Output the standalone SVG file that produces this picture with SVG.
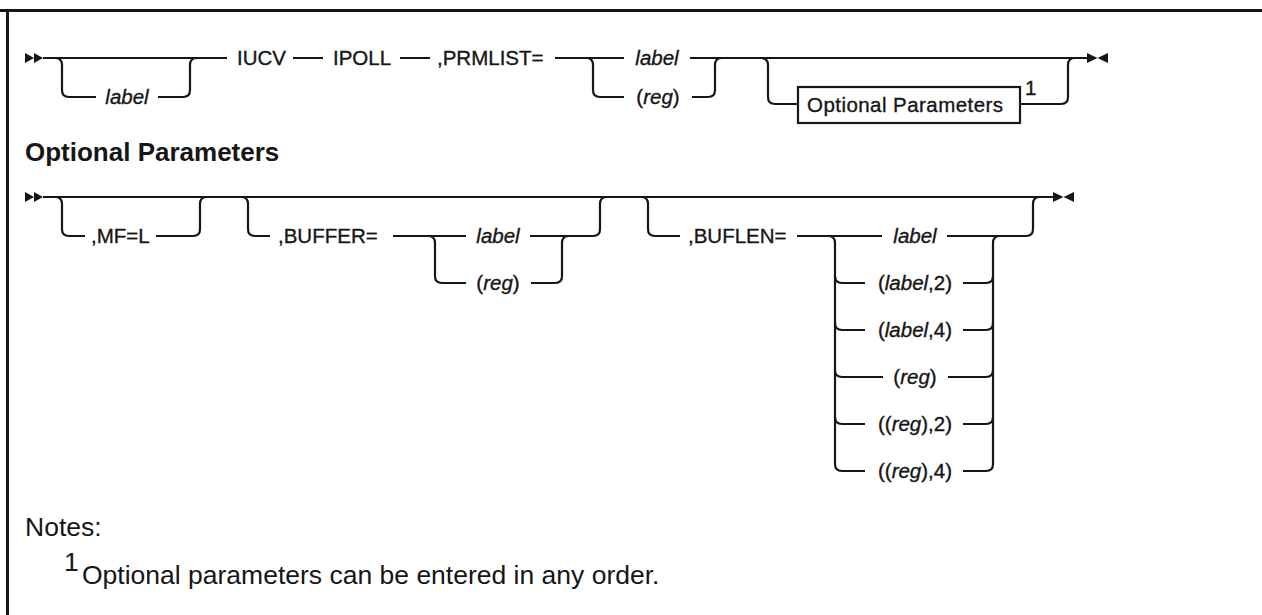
<svg xmlns="http://www.w3.org/2000/svg" width="1262" height="615" viewBox="0 0 1262 615">
<style>
.ln{fill:none;stroke:#161616;stroke-width:2.2}
.t{font-family:"Liberation Sans",Arial,sans-serif;font-size:20.5px;fill:#161616;stroke:#161616;stroke-width:0.35}
.c{text-anchor:middle}
.i{font-style:italic}
.h{font-family:"Liberation Sans",Arial,sans-serif;font-size:26px;font-weight:bold;fill:#161616}
.n{font-family:"Liberation Sans",Arial,sans-serif;font-size:26.5px;fill:#161616}
.ar{fill:#161616}
</style>
<rect width="1262" height="615" fill="#fff"/>
<g id="frame"><path d="M0 10.5H1262M7.5 10V615" fill="none" stroke="#161616" stroke-width="3"/></g>
<g id="connectors">
<path class="ln" d="M43 58H227"/>
<path class="ln" d="M55 58q7 0 7 7V90q0 7 7 7H96"/>
<path class="ln" d="M158 97H183q7 0 7-7V65q0-7 7-7"/>
<path class="ln" d="M293 58H323M400 58H430"/>
<path class="ln" d="M555 58H624M690 58H1087"/>
<path class="ln" d="M586 58q7 0 7 7V90q0 7 7 7H624"/>
<path class="ln" d="M692 97H708q7 0 7-7V65q0-7 7-7"/>
<path class="ln" d="M761 58q7 0 7 7V97q0 7 7 7H798"/>
<path class="ln" d="M1020 104H1061q7 0 7-7V65q0-7 7-7"/>
<path class="ln" d="M43 197H1053"/>
<path class="ln" d="M55 197q7 0 7 7V229q0 7 7 7H85"/>
<path class="ln" d="M156 236H193q7 0 7-7V204q0-7 7-7"/>
<path class="ln" d="M241 197q7 0 7 7V229q0 7 7 7H270"/>
<path class="ln" d="M393 236H466M530 236H593q7 0 7-7V204q0-7 7-7"/>
<path class="ln" d="M428 236q7 0 7 7V276q0 7 7 7H466"/>
<path class="ln" d="M531 283H555q7 0 7-7V243q0-7 7-7"/>
<path class="ln" d="M641 197q7 0 7 7V229q0 7 7 7H680"/>
<path class="ln" d="M797 236H882M947 236H1026q7 0 7-7V204q0-7 7-7"/>
<path class="ln" d="M828 236q7 0 7 7V464q0 7 7 7H865"/>
<path class="ln" d="M835 276q0 7 7 7H865M835 323q0 7 7 7H865M835 370q0 7 7 7H883M835 417q0 7 7 7H865"/>
<path class="ln" d="M963 471H986q7 0 7-7V243q0-7 7-7"/>
<path class="ln" d="M963 283H986q7 0 7-7M963 330H986q7 0 7-7M948 377H986q7 0 7-7M963 424H986q7 0 7-7"/>
<path class="ar" d="M25 53L34 58L25 63ZM34 53L43 58L34 63Z"/>
<path class="ar" d="M1087 53L1097.5 58L1087 63ZM1108 53L1097.5 58L1108 63Z"/>
<path class="ar" d="M25 192L34 197L25 202ZM34 192L43 197L34 202Z"/>
<path class="ar" d="M1053 192L1063.5 197L1053 202ZM1074 192L1063.5 197L1074 202Z"/>
</g>
<g id="n-label1"><text class="t i c" x="127" y="104">label</text></g>
<g id="n-iucv"><text class="t" x="237" y="65">IUCV</text></g>
<g id="n-ipoll"><text class="t" x="333" y="65">IPOLL</text></g>
<g id="n-prmlist"><text class="t" x="437" y="65">,PRMLIST=</text></g>
<g id="n-prm-label"><text class="t i c" x="657" y="65">label</text></g>
<g id="n-prm-reg"><text class="t c" x="658" y="104">(<tspan class="i">reg</tspan>)</text></g>
<g id="n-optbox"><rect x="798" y="87" width="222" height="36" fill="#fff" stroke="#161616" stroke-width="2.2"/><text class="t" x="807" y="112" textLength="196">Optional Parameters</text><text class="t" x="1025" y="95" font-size="20">1</text></g>
<g id="n-header"><text class="h" x="25" y="161">Optional Parameters</text></g>
<g id="n-mf"><text class="t" x="91" y="243">,MF=L</text></g>
<g id="n-buffer"><text class="t" x="278" y="243">,BUFFER=</text></g>
<g id="n-buf-label"><text class="t i c" x="498" y="243">label</text></g>
<g id="n-buf-reg"><text class="t c" x="498" y="290">(<tspan class="i">reg</tspan>)</text></g>
<g id="n-buflen"><text class="t" x="688" y="243">,BUFLEN=</text></g>
<g id="n-bl-label"><text class="t i c" x="915" y="243">label</text></g>
<g id="n-bl-l2"><text class="t c" x="915" y="290">(<tspan class="i">label</tspan>,2)</text></g>
<g id="n-bl-l4"><text class="t c" x="915" y="337">(<tspan class="i">label</tspan>,4)</text></g>
<g id="n-bl-reg"><text class="t c" x="915" y="384">(<tspan class="i">reg</tspan>)</text></g>
<g id="n-bl-r2"><text class="t c" x="915" y="431">((<tspan class="i">reg</tspan>),2)</text></g>
<g id="n-bl-r4"><text class="t c" x="915" y="478">((<tspan class="i">reg</tspan>),4)</text></g>
<g id="n-notes"><text class="n" x="25" y="536">Notes:</text><text class="n" x="64" y="571" font-size="17">1</text><text class="n" x="82" y="584">Optional parameters can be entered in any order.</text></g>
</svg>
